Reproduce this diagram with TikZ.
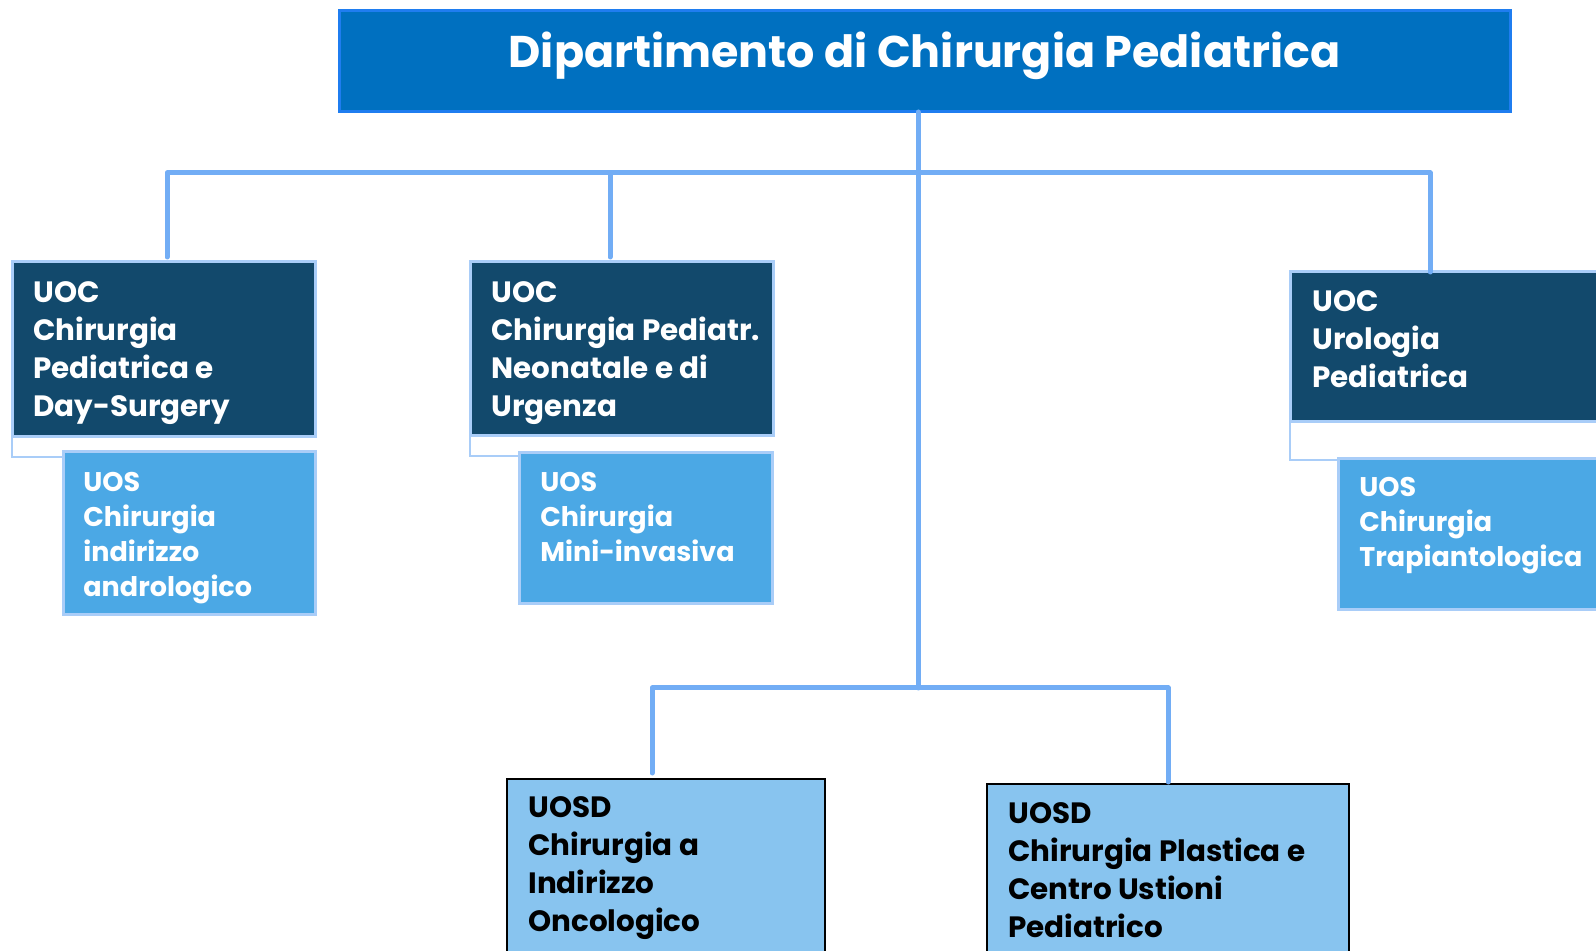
\documentclass[tikz,border=0pt]{standalone}
\usepackage{fontspec}
\setmainfont{Poppins}
\usetikzlibrary{positioning}

\definecolor{deptblue}{HTML}{0070C0}
\definecolor{deptedge}{HTML}{1F7DF0}
\definecolor{uocnavy}{HTML}{12496C}
\definecolor{uossky}{HTML}{4BA8E5}
\definecolor{uosdsky}{HTML}{88C4EF}
\definecolor{paleedge}{HTML}{A9CDF8}
\definecolor{linkblue}{HTML}{72ADF5}

\begin{document}
\begin{tikzpicture}[x=0.5pt,y=-0.5pt,
    box/.style={draw,anchor=north west,inner sep=0pt,outer sep=0pt},
    dept/.style={box,draw=deptedge,fill=deptblue,line width=1.5pt},
    uoc/.style={box,draw=paleedge,fill=uocnavy,line width=1.5pt},
    uos/.style={box,draw=paleedge,fill=uossky,line width=1.5pt},
    uosd/.style={box,draw=black,fill=uosdsky,line width=0.75pt},
    lbl/.style={anchor=north west,inner sep=0pt,align=left,font=\bfseries\fontsize{14.7}{19}\selectfont},
    sublbl/.style={lbl,font=\bfseries\fontsize{13.5}{17.5}\selectfont},
    link/.style={draw=linkblue,line width=2.5pt,line cap=round,line join=round},
    sublink/.style={draw=paleedge,line width=1pt}]

  \useasboundingbox (0,0) rectangle (1596,951);
  \clip (0,0) rectangle (1596,951);

  \node[dept,minimum width=585.5pt,minimum height=50.5pt] (dept) at (339,11) {};
  \node[anchor=base,text=white,font=\bfseries\fontsize{22.2}{26}\selectfont] (deptt) at (924.5,68) {Dipartimento di Chirurgia Pediatrica};

  \node[uoc,minimum width=151.5pt,minimum height=87.5pt] (uoc1) at (12,262) {};
  \node[uos,minimum width=126pt,minimum height=81.5pt] (uos1) at (63,452) {};
  \node[uoc,minimum width=151.5pt,minimum height=87pt] (uoc2) at (470,262) {};
  \node[uos,minimum width=126.5pt,minimum height=75.5pt] (uos2) at (519,453) {};
  \node[uoc,minimum width=175pt,minimum height=75pt] (uoc3) at (1290,272) {};
  \node[uos,minimum width=151pt,minimum height=75.5pt] (uos3) at (1338,459) {};
  \node[uosd,minimum width=159pt,minimum height=110pt] (uosd1) at (507,779) {};
  \node[uosd,minimum width=181pt,minimum height=110pt] (uosd2) at (987,784) {};

  \node[lbl,text=white] (uoc1t) at ([shift={(21,19)}]uoc1.north west) {UOC\\Chirurgia\\Pediatrica e\\Day-Surgery};
  \node[sublbl,text=white] (uos1t) at ([shift={(20,20)}]uos1.north west) {UOS\\Chirurgia\\indirizzo\\andrologico};
  \node[lbl,text=white] (uoc2t) at ([shift={(21,19)}]uoc2.north west) {UOC\\Chirurgia Pediatr.\\Neonatale e di\\Urgenza};
  \node[sublbl,text=white] (uos2t) at ([shift={(21,19)}]uos2.north west) {UOS\\Chirurgia\\Mini-invasiva};
  \node[lbl,text=white] (uoc3t) at ([shift={(22,18)}]uoc3.north west) {UOC\\Urologia\\Pediatrica};
  \node[sublbl,text=white] (uos3t) at ([shift={(21,18)}]uos3.north west) {UOS\\Chirurgia\\Trapiantologica};
  \node[lbl] (uosd1t) at ([shift={(21,17)}]uosd1.north west) {UOSD\\Chirurgia a\\Indirizzo\\Oncologico};
  \node[lbl] (uosd2t) at ([shift={(21,18)}]uosd2.north west) {UOSD\\Chirurgia Plastica e\\Centro Ustioni\\Pediatrico};

  \coordinate (hub) at (918,173);
  \coordinate (hub2) at (918,688);
  \coordinate (c1) at ([xshift=1.75pt,yshift=2.5pt]uoc1.north);
  \coordinate (c2) at ([xshift=-5.75pt,yshift=2.5pt]uoc2.north);
  \coordinate (c3) at ([xshift=-17.5pt]uoc3.north);
  \coordinate (c4) at ([xshift=-7pt,yshift=3pt]uosd1.north);

  \draw[link] (dept.south -| hub) -- (hub2);
  \draw[link] (c1) -- (hub -| c1) -- (hub -| c3) -- (c3);
  \draw[link] (hub -| c2) -- (c2);
  \draw[link] (c4) -- (hub2 -| c4) -- (hub2 -| uosd2.north) -- ([yshift=1pt]uosd2.north);

  \draw[sublink] (uoc1.south west) |- ([yshift=-2.5pt]uos1.north west);
  \draw[sublink] (uoc2.south west) |- ([yshift=-1.5pt]uos2.north west);
  \draw[sublink] (uoc3.south west) |- ([yshift=-0.5pt]uos3.north west);

\end{tikzpicture}
\end{document}
